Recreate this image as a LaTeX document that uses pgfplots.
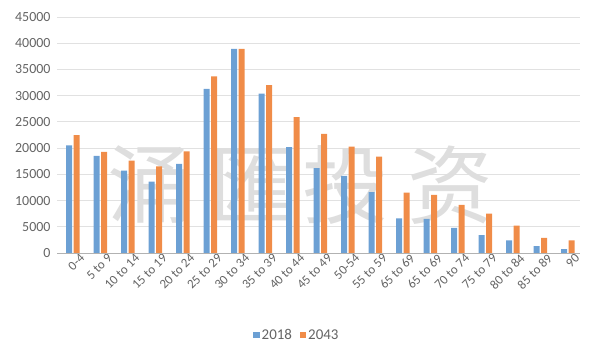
\documentclass[border=0pt]{standalone}
\usepackage{pgfplots}
\pgfplotsset{compat=1.18}
\usepackage{fontspec}
\setmainfont{Carlito}
\newfontfamily\cjk{Noto Sans CJK SC}
\definecolor{bblue}{RGB}{108,160,212}
\definecolor{borange}{RGB}{240,140,72}
\definecolor{tickgray}{RGB}{100,100,100}
\definecolor{gridgray}{RGB}{225,225,225}
\begin{document}
\begin{tikzpicture}
\begin{axis}[
  set layers=standard,
  scale only axis,
  width=523bp, height=236bp,
  xmin=-0.58, xmax=18.44,
  ymin=0, ymax=45000,
  ytick={0,5000,...,45000},
  xtick={0,...,18},
  xticklabels={0-4,5 to 9,10 to 14,15 to 19,20 to 24,25 to 29,30 to 34,35 to 39,40 to 44,45 to 49,50-54,55 to 59,65 to 69,65 to 69,70 to 74,75 to 79,80 to 84,85 to 89,90},
  x tick label style={rotate=45, anchor=north east, inner sep=0.5bp, yshift=-4bp, xshift=5bp, font=\fontsize{13}{14}\selectfont},
  scaled y ticks=false,
  /pgf/number format/assume math mode=true,
  yticklabel style={/pgf/number format/1000 sep={}, xshift=-3bp, font=\fontsize{14}{16}\selectfont},
  tick label style={text=tickgray},
  major tick length=0pt,
  axis line style={draw=none},
  ymajorgrids, grid style={draw=gridgray, line width=0.8pt},
  ybar, bar width=6bp,
  legend style={at={(240bp,-82bp)}, anchor=center, draw=none, legend columns=2,
    font=\fontsize{15}{17}\selectfont, text=tickgray,
    /tikz/every even column/.append style={column sep=6bp}},
  legend image code/.code={\fill[#1] (0cm,-0.1cm) rectangle (0.22cm,0.12cm);},
  clip=false,
]
\begin{pgfonlayer}{pre main}
\node[text=black!13, font=\cjk\fontsize{86}{90}\selectfont, anchor=center, inner sep=0pt] at (axis cs:2.80,13000) {涌};
\node[text=black!13, font=\cjk\fontsize{86}{90}\selectfont, anchor=center, inner sep=0pt] at (axis cs:6.51,13000) {匯};
\node[text=black!13, font=\cjk\fontsize{86}{90}\selectfont, anchor=center, inner sep=0pt] at (axis cs:9.89,13000) {投};
\node[text=black!13, font=\cjk\fontsize{86}{90}\selectfont, anchor=center, inner sep=0pt] at (axis cs:13.71,13000) {资};
\end{pgfonlayer}
\addplot[fill=bblue, draw=none, bar shift=-3.8bp] coordinates {
 (0,20500) (1,18500) (2,15700) (3,13600) (4,17000) (5,31300) (6,38900) (7,30400) (8,20200) (9,16200) (10,14700) (11,11600) (12,6600) (13,6500) (14,4800) (15,3400) (16,2400) (17,1300) (18,760)};
\addplot[fill=borange, draw=none, bar shift=3.8bp] coordinates {
 (0,22500) (1,19300) (2,17600) (3,16500) (4,19400) (5,33700) (6,38900) (7,32000) (8,25900) (9,22700) (10,20300) (11,18400) (12,11500) (13,11100) (14,9200) (15,7500) (16,5200) (17,2900) (18,2400)};
\legend{2018,2043}
\draw[draw=black!30, line width=0.8pt] (rel axis cs:0,0) -- (rel axis cs:1,0);
\end{axis}
\useasboundingbox (-57bp,-104bp) rectangle (543bp,253bp);
\end{tikzpicture}
\end{document}
